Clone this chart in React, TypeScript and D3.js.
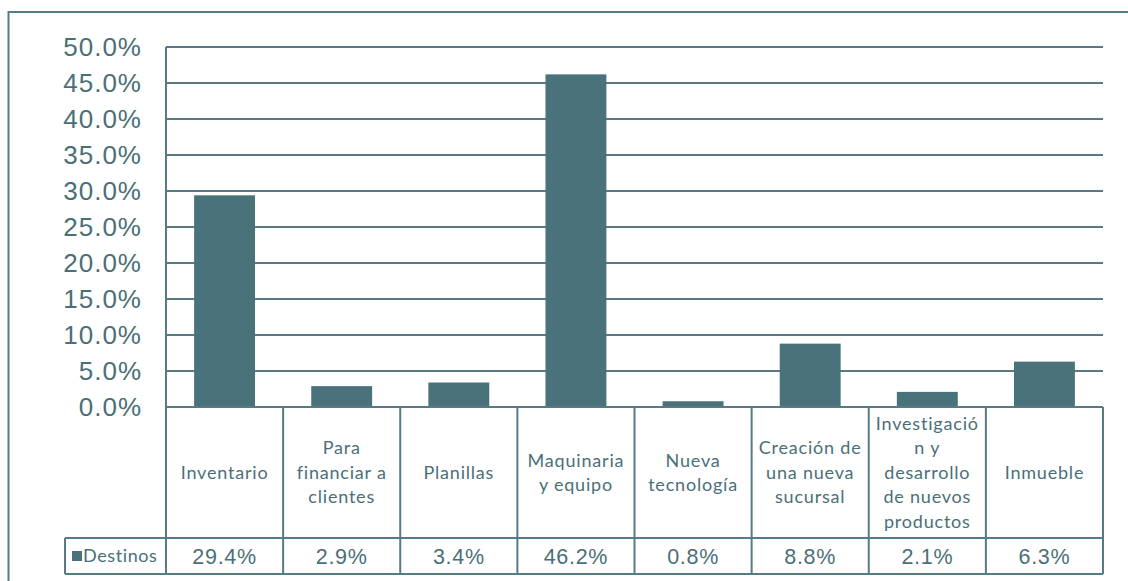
import React from "react";
import * as d3 from "d3";

const categories: string[][] = [
  ["Inventario"],
  ["Para", "financiar a", "clientes"],
  ["Planillas"],
  ["Maquinaria", "y equipo"],
  ["Nueva", "tecnología"],
  ["Creación de", "una nueva", "sucursal"],
  ["Investigació", "n y", "desarrollo", "de nuevos", "productos"],
  ["Inmueble"],
];
const values: number[] = [29.4, 2.9, 3.4, 46.2, 0.8, 8.8, 2.1, 6.3];
const yTicks: number[] = [0, 5, 10, 15, 20, 25, 30, 35, 40, 45, 50];
const seriesName = "Destinos";

const W = 1128;
const H = 581;
const left = 166;
const right = 1103;
const top = 47;
const zeroY = 407;
const rowY = 538;
const bottom = 574;
const legendLeft = 65;

const LINE = "#567b84";
const BAR = "#4a727b";
const TEXT = "#4a6f78";
const CAT_FONT = "Lato, 'Open Sans', sans-serif";
const NUM_FONT = "'Liberation Sans', Arial, sans-serif";

export default function App() {
  const x = d3
    .scaleBand<number>()
    .domain(values.map((_, i) => i))
    .range([left, right])
    .paddingInner(0.48)
    .paddingOuter(0.24);
  const cols = d3
    .scaleBand<number>()
    .domain(values.map((_, i) => i))
    .range([left, right]);
  const y = d3.scaleLinear().domain([0, 50]).range([zeroY, top]);
  const lineH = 24.5;
  const headerMid = (zeroY + rowY) / 2;

  return (
    <svg
      width={W}
      height={H}
      style={{ position: "absolute", left: 0, top: 0, background: "#fff" }}
    >
      {/* outer frame */}
      <rect x={8.5} y={12} width={W + 20} height={H + 20} fill="none" stroke={LINE} strokeWidth={2} />

      {/* gridlines */}
      {yTicks.map((t) => (
        <line key={t} x1={left} x2={right} y1={y(t)} y2={y(t)} stroke={LINE} strokeWidth={2} />
      ))}
      {/* y tick labels */}
      {yTicks.map((t) => (
        <text
          key={"l" + t}
          x={142}
          y={y(t)}
          dy="0.36em"
          textAnchor="end"
          fontFamily={NUM_FONT}
          fontSize={26}
          letterSpacing={1}
          fill={TEXT}
        >
          {d3.format(".1f")(t) + "%"}
        </text>
      ))}

      {/* bars */}
      {values.map((v, i) => (
        <rect key={"b" + i} x={x(i)} y={y(v)} width={x.bandwidth()} height={zeroY - y(v)} fill={BAR} />
      ))}

      {/* table lines */}
      <line x1={left} x2={left} y1={top} y2={bottom} stroke={LINE} strokeWidth={2} />
      <line x1={right} x2={right} y1={zeroY} y2={bottom} stroke={LINE} strokeWidth={2} />
      {values.map((_, i) =>
        i > 0 ? (
          <line key={"c" + i} x1={cols(i)} x2={cols(i)} y1={zeroY} y2={bottom} stroke={LINE} strokeWidth={2} />
        ) : null
      )}
      <line x1={legendLeft} x2={right} y1={rowY} y2={rowY} stroke={LINE} strokeWidth={2} />
      <line x1={legendLeft} x2={right} y1={bottom} y2={bottom} stroke={LINE} strokeWidth={2} />
      <line x1={legendLeft} x2={legendLeft} y1={rowY} y2={bottom} stroke={LINE} strokeWidth={2} />
      <line x1={left} x2={right} y1={zeroY} y2={zeroY} stroke={LINE} strokeWidth={2} />

      {/* category labels */}
      {categories.map((lines, i) => {
        const cx = (cols(i) as number) + cols.bandwidth() / 2;
        const start = headerMid - ((lines.length - 1) * lineH) / 2;
        return (
          <text
            key={"t" + i}
            textAnchor="middle"
            fontFamily={CAT_FONT}
            fontSize={18}
            letterSpacing={0.8}
            fill={TEXT}
          >
            {lines.map((s, j) => (
              <tspan key={j} x={cx} y={start + j * lineH} dy="0.35em">
                {s}
              </tspan>
            ))}
          </text>
        );
      })}

      {/* values row */}
      {values.map((v, i) => (
        <text
          key={"v" + i}
          x={(cols(i) as number) + cols.bandwidth() / 2}
          y={(rowY + bottom) / 2}
          dy="0.36em"
          textAnchor="middle"
          fontFamily={NUM_FONT}
          fontSize={21.5}
          letterSpacing={0.7}
          fill={TEXT}
        >
          {d3.format(".1f")(v) + "%"}
        </text>
      ))}

      {/* legend */}
      <rect x={72} y={551} width={10} height={10} fill={BAR} />
      <text
        x={83}
        y={(rowY + bottom) / 2}
        dy="0.35em"
        fontFamily={CAT_FONT}
        fontSize={18}
        letterSpacing={0.6}
        fill={TEXT}
      >
        {seriesName}
      </text>
    </svg>
  );
}
